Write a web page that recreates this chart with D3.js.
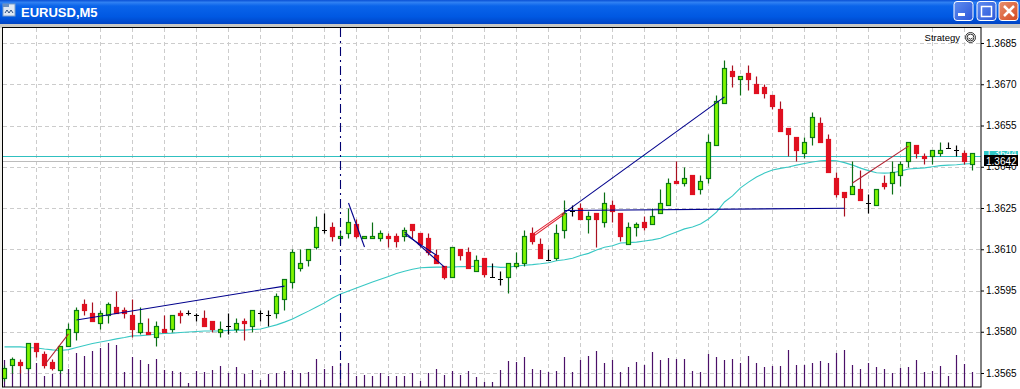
<!DOCTYPE html>
<html>
<head>
<meta charset="utf-8">
<script src="https://cdn.jsdelivr.net/npm/d3@7"></script>
<style>
  html, body { margin: 0; padding: 0; background: #fff; overflow: hidden; }
  svg { display: block; }
  text { font-family: "Liberation Sans", Arial, sans-serif; }
</style>
</head>
<body>
<div id="chart"></div>
<script>
  // EURUSD M5 terminal window, prices
  const open_ = [
    1.3563,1.3568,1.3569,1.3567,1.3576,1.3572,1.3569,1.3566,1.3575,1.3580,
    1.3590,1.3587,1.3583,1.3586,1.3589,1.3588,1.3586,1.3580,1.3580,1.3578,
    1.3581,1.3581,1.3587,1.3587,1.3586,1.3585,1.3584,1.3580,1.3582,1.3581,
    1.3584,1.3582,1.3587,1.3586,1.3587,1.3592,1.3598,1.3603,1.3606,1.3611,
    1.3617,1.3618,1.3614,1.3616,1.3619,1.3614,1.3614,1.3614,1.3615,1.3615,
    1.3615,1.3619,1.3616,1.3614,1.3608,1.3604,1.3600,1.3610,1.3609,1.3602,
    1.3607,1.3600,1.3599,1.3600,1.3604,1.3605,1.3616,1.3612,1.3606,1.3607,
    1.3617,1.3624,1.3625,1.3621,1.3623,1.3620,1.3626,1.3623,1.3612,1.3618,
    1.3620,1.3619,1.3623,1.3626,1.3635,1.3634,1.3637,1.3632,1.3636,1.3648,
    1.3663,1.3675,1.3672,1.3674,1.3670,1.3669,1.3666,1.3661,1.3654,1.3651,
    1.3645,1.3651,1.3656,1.3650,1.3636,1.3631,1.3630,1.3632,1.3627,1.3626,
    1.3634,1.3634,1.3637,1.3642,1.3648,1.3644,1.3644,1.3645,1.3647,1.3646,
    1.3645,1.3641];
  const high = [
    1.3568,1.3571,1.3570,1.3576,1.3576,1.3573,1.3570,1.3575,1.3583,1.3589,
    1.3592,1.3591,1.3588,1.3591,1.3595,1.3589,1.3592,1.3589,1.3585,1.3584,
    1.3586,1.3586,1.3588,1.3588,1.3587,1.3588,1.3584,1.3584,1.3587,1.3585,
    1.3585,1.3588,1.3588,1.3588,1.3594,1.3599,1.3610,1.3610,1.3610,1.3622,
    1.3623,1.3620,1.3617,1.3625,1.3621,1.3615,1.3620,1.3617,1.3616,1.3616,
    1.3618,1.3619,1.3616,1.3616,1.3610,1.3604,1.3611,1.3610,1.3611,1.3608,
    1.3607,1.3605,1.3602,1.3605,1.3609,1.3617,1.3618,1.3614,1.3610,1.3619,
    1.3628,1.3626,1.3627,1.3624,1.3623,1.3631,1.3628,1.3623,1.3620,1.3620,
    1.3622,1.3625,1.3632,1.3636,1.3642,1.3640,1.3637,1.3637,1.3652,1.3666,
    1.3679,1.3677,1.3673,1.3677,1.3673,1.3670,1.3666,1.3664,1.3654,1.3651,
    1.3651,1.3660,1.3658,1.3652,1.3638,1.3631,1.3642,1.3639,1.3630,1.3632,
    1.3637,1.3642,1.3642,1.3649,1.3648,1.3645,1.3646,1.3649,1.3649,1.3648,
    1.3646,1.3645];
  const low = [
    1.3562,1.3565,1.3565,1.3566,1.3571,1.3567,1.3566,1.3565,1.3575,1.3577,
    1.3586,1.3584,1.3581,1.3583,1.3587,1.3585,1.3578,1.3579,1.3579,1.3575,
    1.3580,1.3580,1.3583,1.3586,1.3584,1.3582,1.3580,1.3578,1.3579,1.3580,
    1.3577,1.3580,1.3584,1.3582,1.3585,1.3588,1.3596,1.3602,1.3604,1.3610,
    1.3616,1.3613,1.3612,1.3614,1.3614,1.3614,1.3614,1.3613,1.3611,1.3611,
    1.3613,1.3614,1.3611,1.3608,1.3605,1.3599,1.3600,1.3606,1.3603,1.3602,
    1.3600,1.3600,1.3597,1.3594,1.3603,1.3604,1.3612,1.3607,1.3606,1.3606,
    1.3614,1.3622,1.3621,1.3616,1.3611,1.3618,1.3620,1.3613,1.3612,1.3615,
    1.3617,1.3619,1.3623,1.3626,1.3634,1.3633,1.3630,1.3630,1.3634,1.3648,
    1.3663,1.3669,1.3666,1.3668,1.3667,1.3665,1.3661,1.3653,1.3644,1.3642,
    1.3643,1.3648,1.3649,1.3638,1.3629,1.3622,1.3630,1.3628,1.3623,1.3626,
    1.3632,1.3630,1.3633,1.3640,1.3643,1.3641,1.3641,1.3644,1.3647,1.3644,
    1.3641,1.3639];
  const close_ = [
    1.3567,1.3570,1.3568,1.3576,1.3573,1.3568,1.3567,1.3575,1.3581,1.3588,
    1.3588,1.3584,1.3587,1.3590,1.3587,1.3587,1.3581,1.3583,1.3579,1.3582,
    1.3580,1.3586,1.3586,1.3587,1.3586,1.3582,1.3581,1.3581,1.3582,1.3583,
    1.3583,1.3588,1.3587,1.3586,1.3593,1.3599,1.3609,1.3605,1.3610,1.3618,
    1.3617,1.3615,1.3615,1.3620,1.3615,1.3615,1.3615,1.3616,1.3614,1.3613,
    1.3617,1.3617,1.3612,1.3609,1.3605,1.3600,1.3611,1.3608,1.3603,1.3606,
    1.3601,1.3600,1.3599,1.3605,1.3605,1.3615,1.3613,1.3607,1.3606,1.3616,
    1.3623,1.3624,1.3621,1.3622,1.3621,1.3627,1.3624,1.3615,1.3618,1.3619,
    1.3618,1.3622,1.3627,1.3634,1.3634,1.3636,1.3630,1.3635,1.3649,1.3664,
    1.3676,1.3673,1.3673,1.3672,1.3667,1.3667,1.3662,1.3653,1.3652,1.3646,
    1.3649,1.3658,1.3649,1.3638,1.3630,1.3629,1.3633,1.3628,1.3627,1.3632,
    1.3633,1.3638,1.3641,1.3649,1.3645,1.3643,1.3646,1.3646,1.3647,1.3646,
    1.3642,1.3645];
  const volume = [
    27,20,17,25,24,11,13,14,18,34,
    31,36,39,44,42,15,30,27,23,28,
    17,16,15,4,16,15,17,21,14,20,
    13,17,7,13,14,16,17,14,15,28,
    18,21,24,24,11,12,11,14,11,11,
    11,14,6,14,18,12,16,12,16,10,
    5,5,17,26,25,30,18,17,15,16,
    30,15,27,31,36,24,27,15,20,25,
    22,35,27,29,28,28,16,15,33,30,
    27,28,24,31,24,20,21,21,37,22,
    22,24,26,24,34,37,22,18,24,20,
    18,14,19,20,27,15,16,21,11,32,
    23,15];
  const ma = [
    1.35745,1.35745,1.35745,1.35743,1.35741,1.35737,1.35734,1.35732,1.35735,1.35743,
    1.35750,1.35757,1.35763,1.35768,1.35774,1.35779,1.35785,1.35786,1.35788,1.35792,
    1.35794,1.35795,1.35797,1.35799,1.35801,1.35803,1.35803,1.35803,1.35805,1.35806,
    1.35806,1.35808,1.35810,1.35817,1.35825,1.35835,1.35846,1.35861,1.35875,1.35890,
    1.35905,1.35923,1.35937,1.35948,1.35959,1.35970,1.35981,1.35991,1.36001,1.36012,
    1.36020,1.36027,1.36033,1.36034,1.36035,1.36035,1.36035,1.36037,1.36037,1.36038,
    1.36037,1.36037,1.36034,1.36035,1.36039,1.36042,1.36044,1.36047,1.36051,1.36058,
    1.36062,1.36067,1.36077,1.36085,1.36097,1.36107,1.36113,1.36123,1.36124,1.36126,
    1.36130,1.36134,1.36140,1.36152,1.36163,1.36174,1.36181,1.36192,1.36210,1.36235,
    1.36272,1.36294,1.36323,1.36344,1.36363,1.36377,1.36388,1.36394,1.36399,1.36406,
    1.36412,1.36417,1.36422,1.36423,1.36422,1.36415,1.36406,1.36395,1.36386,1.36378,
    1.36377,1.36378,1.36384,1.36392,1.36394,1.36396,1.36400,1.36404,1.36406,1.36407,
    1.36410,1.36412];

  const priceTicks = [1.3685, 1.3670, 1.3655, 1.3640, 1.3625, 1.3610, 1.3595, 1.3580, 1.3565];
  // hand drawn trend lines: [bar, price, bar, price, colour]
  const trendLines = [
    [9, 1.35843, 35, 1.35966, "#00008c"],
    [5, 1.35679, 8, 1.35792, "#b02030"],
    [43, 1.36268, 45, 1.36108, "#00008c"],
    [50, 1.36163, 55, 1.36035, "#00008c"],
    [50, 1.36155, 54, 1.36078, "#00008c"],
    [66, 1.36154, 70, 1.36235, "#e02030"],
    [66, 1.36145, 70, 1.36228, "#e02030"],
    [70, 1.36233, 90, 1.36654, "#00008c"],
    [70, 1.36241, 105, 1.36249, "#00008c"],
    [106, 1.36341, 113, 1.36475, "#b02030"],
  ];
  const askPrice = 1.3644;
  const bidPrice = 1.3642;
  const markerBar = 42;

  const width = 1020, height = 389;
  const plot = { left: 3, right: 981, top: 28, bottom: 387 };

  const x = d3.scaleLinear().domain([0, 121]).range([4.5, 972.5]);
  const y = d3.scaleLinear().domain([1.3565, 1.3685]).range([373, 43]);
  const yVol = d3.scaleLinear().domain([0, 60]).range([plot.bottom, plot.bottom - 60]);
  const py = (p) => Math.round(y(p)) + 0.5;

  const svg = d3.select("#chart").append("svg").attr("width", width).attr("height", height);

  // window chrome
  const defs = svg.append("defs");
  const grad = defs.append("linearGradient").attr("id", "titleGrad").attr("x2", 0).attr("y2", 1);
  [[0, "#0a50d4"], [0.1, "#2f80f2"], [0.25, "#0a64ea"], [0.7, "#0058e2"], [1, "#0044c4"]].forEach(([o, c]) =>
    grad.append("stop").attr("offset", o).attr("stop-color", c));

  svg.append("rect").attr("width", width).attr("height", height).attr("fill", "#fff");
  svg.append("rect").attr("width", width).attr("height", 24).attr("fill", "url(#titleGrad)");
  svg.append("rect").attr("y", 24).attr("width", width).attr("height", 4).attr("fill", "#c8c8c4");
  svg.append("rect").attr("y", 28).attr("width", 3).attr("height", height - 28).attr("fill", "#f0f0ec");

  const icon = svg.append("g").attr("transform", "translate(3,4)");
  icon.append("rect").attr("width", 12).attr("height", 12).attr("fill", "#dfe8f4").attr("stroke", "#7f9fc8");
  icon.append("rect").attr("width", 6).attr("height", 3).attr("fill", "#6a8fc0");
  icon.append("path").attr("d", "M2 9 L4 6 L6 9 L8 6 L10 9").attr("fill", "none").attr("stroke", "#30507f");

  svg.append("text").attr("x", 21).attr("y", 17).attr("fill", "#fff")
    .attr("font-size", 13).attr("font-weight", 700).text("EURUSD,M5");

  const buttons = [
    { x: 954, c0: "#5f8df0", c1: "#2a55d8" },
    { x: 977, c0: "#5f8df0", c1: "#2a55d8" },
    { x: 999, c0: "#e89070", c1: "#d4481f" },
  ];
  buttons.forEach((b, i) => {
    const id = `btn${i}`;
    const g = defs.append("linearGradient").attr("id", id).attr("x2", 1).attr("y2", 1);
    g.append("stop").attr("offset", 0).attr("stop-color", b.c0);
    g.append("stop").attr("offset", 1).attr("stop-color", b.c1);
    svg.append("rect").attr("x", b.x).attr("y", 1.5).attr("width", 19).attr("height", 19).attr("rx", 3)
      .attr("fill", `url(#${id})`).attr("stroke", "#fff");
  });
  svg.append("rect").attr("x", 958).attr("y", 13).attr("width", 7).attr("height", 3).attr("fill", "#fff");
  svg.append("rect").attr("x", 981.5).attr("y", 6.5).attr("width", 10).attr("height", 10)
    .attr("fill", "none").attr("stroke", "#fff").attr("stroke-width", 1.5);
  svg.append("path").attr("d", "M1004 6 L1014 16 M1014 6 L1004 16")
    .attr("stroke", "#fff").attr("stroke-width", 2.5);

  // grid
  const grid = svg.append("g").attr("stroke", "#cccccc").attr("stroke-dasharray", "4,3");
  grid.selectAll(".h").data(priceTicks).enter().append("line")
    .attr("x1", plot.left).attr("x2", plot.right)
    .attr("y1", py).attr("y2", py);
  grid.selectAll(".v").data(d3.range(4, 122, 4)).enter().append("line")
    .attr("x1", x).attr("x2", x)
    .attr("y1", plot.top).attr("y2", plot.bottom);

  // bid / ask
  svg.append("line").attr("x1", plot.left).attr("x2", plot.right)
    .attr("y1", py(bidPrice)).attr("y2", py(bidPrice)).attr("stroke", "#bcbcbc");
  svg.append("line").attr("x1", plot.left).attr("x2", plot.right)
    .attr("y1", py(askPrice)).attr("y2", py(askPrice)).attr("stroke", "#30c0c0");

  // volumes
  svg.append("g").attr("stroke", "#4b1068").attr("stroke-width", 1.2)
    .selectAll("line").data(volume).enter().append("line")
    .attr("x1", (d, i) => x(i)).attr("x2", (d, i) => x(i))
    .attr("y1", yVol(0)).attr("y2", (d) => yVol(d));

  // moving average
  svg.append("path").datum(ma).attr("fill", "none").attr("stroke", "#38c8c4").attr("stroke-width", 1.1)
    .attr("d", d3.line().x((d, i) => x(i)).y((d) => y(d)));

  // candles
  const bars = ma.map((_, i) => ({ i, o: open_[i], h: high[i], l: low[i], c: close_[i] }));
  const candles = svg.append("g").selectAll("g").data(bars).enter().append("g");
  const wickColor = (d) => (d.c > d.o ? "#0a6e14" : d.c < d.o ? "#a81020" : "#000");
  candles.append("line")
    .attr("x1", (d) => x(d.i)).attr("x2", (d) => x(d.i))
    .attr("y1", (d) => py(d.h)).attr("y2", (d) => py(d.l))
    .attr("stroke", wickColor).attr("stroke-width", 1.2);
  candles.filter((d) => d.c === d.o).append("line")
    .attr("x1", (d) => x(d.i) - 2.5).attr("x2", (d) => x(d.i) + 2.5)
    .attr("y1", (d) => py(d.o)).attr("y2", (d) => py(d.o))
    .attr("stroke", "#000");
  candles.filter((d) => d.c !== d.o).append("rect")
    .attr("x", (d) => x(d.i) - 2)
    .attr("y", (d) => py(Math.max(d.o, d.c)))
    .attr("width", 4)
    .attr("height", (d) => Math.abs(py(d.o) - py(d.c)))
    .attr("fill", (d) => (d.c > d.o ? "#7ff500" : "#e01020"))
    .attr("stroke", (d) => (d.c > d.o ? "#0a7a14" : "#e01020"))
    .attr("stroke-width", 1.2);

  // trend lines
  svg.append("g").selectAll("line").data(trendLines).enter().append("line")
    .attr("x1", (d) => x(d[0])).attr("y1", (d) => y(d[1]))
    .attr("x2", (d) => x(d[2])).attr("y2", (d) => y(d[3]))
    .attr("stroke", (d) => d[4]).attr("stroke-width", 1.1);

  // vertical marker
  svg.append("line").attr("x1", x(markerBar)).attr("x2", x(markerBar))
    .attr("y1", plot.top).attr("y2", plot.bottom)
    .attr("stroke", "#000070").attr("stroke-width", 1.1).attr("stroke-dasharray", "9,4,2,4");

  // frame
  svg.append("rect").attr("x", plot.left - 0.5).attr("y", plot.top - 0.5)
    .attr("width", plot.right - plot.left + 0.5).attr("height", plot.bottom - plot.top + 0.5)
    .attr("fill", "none").attr("stroke", "#000");

  // price axis
  const axis = svg.append("g").attr("transform", `translate(${plot.right},0)`)
    .call(d3.axisRight(y).tickValues(priceTicks).tickFormat(d3.format(".4f")).tickSize(3).tickPadding(2));
  axis.select(".domain").remove();
  axis.selectAll("text").attr("font-size", 10).attr("fill", "#000")
    .style("font-family", '"Liberation Sans", Arial, sans-serif');

  // ask / bid price labels
  const fmt = d3.format(".4f");
  svg.append("rect").attr("x", 984).attr("y", 151).attr("width", 34).attr("height", 6).attr("fill", "#30c8c8");
  svg.append("text").attr("x", 986).attr("y", 157).attr("font-size", 10).attr("fill", "#fff").text(fmt(askPrice));
  svg.append("rect").attr("x", 984).attr("y", 155).attr("width", 34).attr("height", 11).attr("fill", "#000");
  svg.append("text").attr("x", 986).attr("y", 164.5).attr("font-size", 10).attr("fill", "#fff").text(fmt(bidPrice));

  // expert label
  svg.append("text").attr("x", 960).attr("y", 41).attr("text-anchor", "end")
    .attr("font-size", 9.5).attr("fill", "#000").text("Strategy");
  const face = svg.append("g").attr("transform", "translate(970.5,37.5)").attr("fill", "none").attr("stroke", "#333");
  face.append("circle").attr("r", 5);
  face.append("circle").attr("r", 3.4);
  face.append("path").attr("d", "M-2 0.5 Q0 3 2 0.5");
</script>
</body>
</html>
